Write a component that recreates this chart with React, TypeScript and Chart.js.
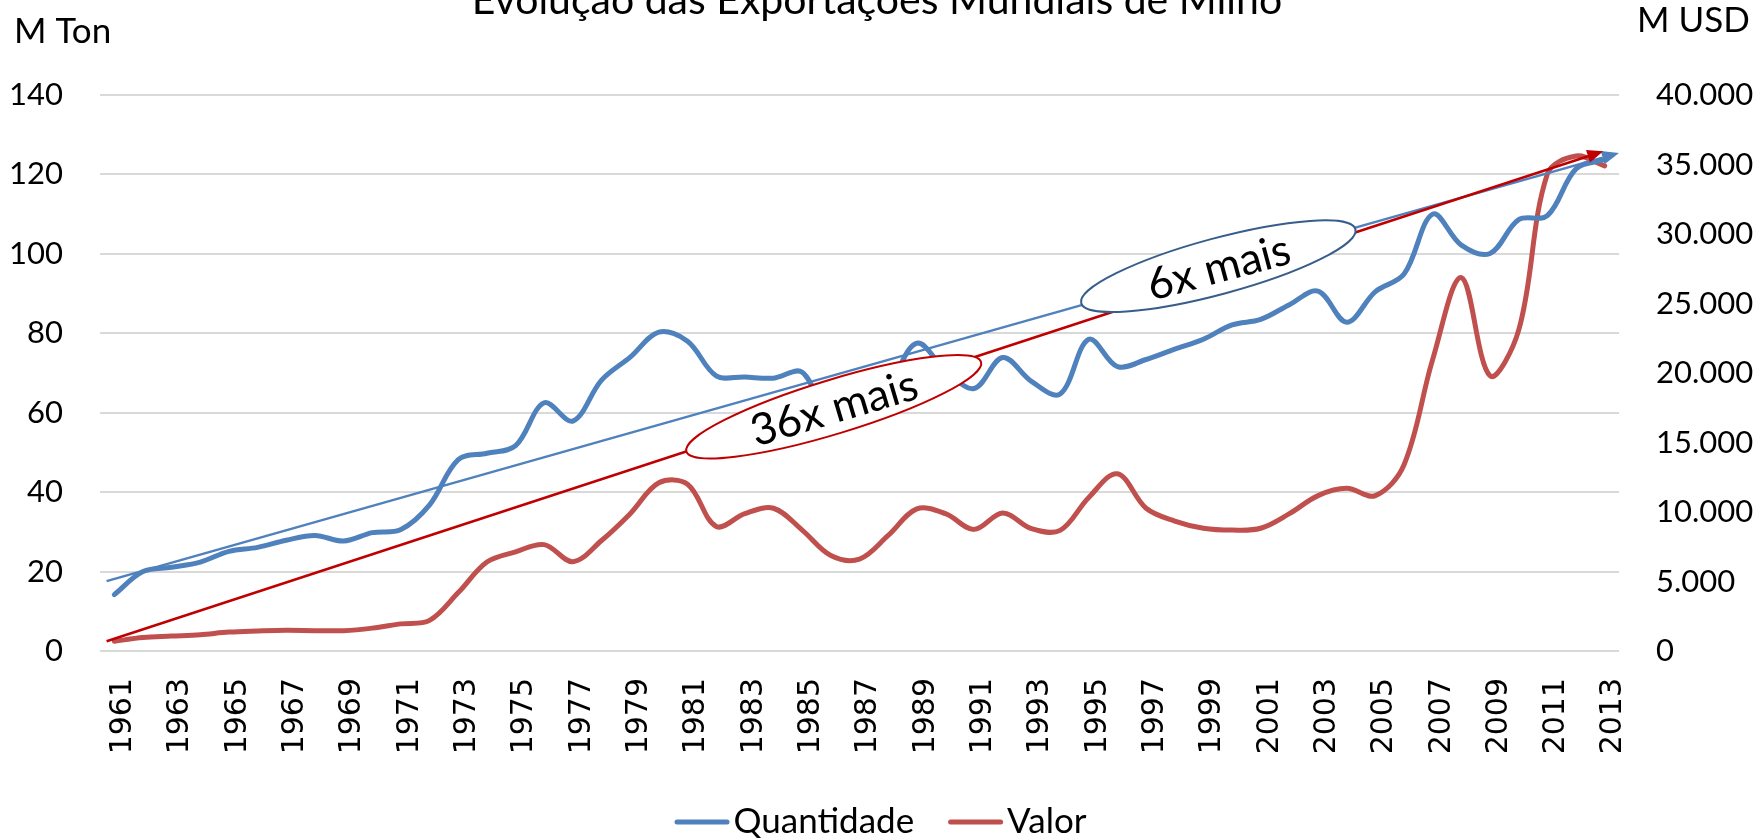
import React, { useEffect, useRef } from 'react';
import { Chart, registerables } from 'chart.js';

Chart.register(...registerables);

const years = [
  '1961', '1962', '1963', '1964', '1965', '1966', '1967', '1968', '1969', '1970',
  '1971', '1972', '1973', '1974', '1975', '1976', '1977', '1978', '1979', '1980',
  '1981', '1982', '1983', '1984', '1985', '1986', '1987', '1988', '1989', '1990',
  '1991', '1992', '1993', '1994', '1995', '1996', '1997', '1998', '1999', '2000',
  '2001', '2002', '2003', '2004', '2005', '2006', '2007', '2008', '2009', '2010',
  '2011', '2012', '2013',
];

// Quantidade (M Ton) - left axis
const quantidade = [
  14.2, 20.0, 21.1, 22.4, 25.1, 26.1, 27.9, 29.1, 27.7, 29.8,
  30.6, 36.8, 48.2, 49.8, 51.7, 62.5, 57.9, 68.2, 74.0, 80.3,
  78.0, 69.3, 69.0, 68.7, 70.2, 58.0, 62.0, 67.0, 77.5, 70.7,
  66.1, 73.9, 67.9, 64.7, 78.5, 71.6, 73.4, 76.0, 78.5, 82.1,
  83.5, 87.2, 90.6, 82.8, 90.5, 94.9, 110.0, 102.2, 100.1, 108.6,
  109.6, 121.4, 123.7,
];

// Valor (M USD) - right axis
const valor = [
  706, 967, 1071, 1175, 1359, 1437, 1489, 1463, 1463, 1646,
  1950, 2200, 4200, 6400, 7133, 7655, 6427, 7950, 9880, 12100,
  12000, 8960, 9880, 10270, 8700, 6870, 6610, 8310, 10220, 9880,
  8750, 9930, 8800, 8680, 11050, 12750, 10270, 9350, 8830, 8700,
  8830, 9880, 11180, 11700, 11180, 13400, 20980, 26860, 19800, 23080,
  34310, 35610, 34900,
];

const leftTickValues = [0, 20, 40, 60, 80, 100, 120, 140];
const rightTickValues = [0, 5000, 10000, 15000, 20000, 25000, 30000, 35000, 40000];

// Trend arrows: [start value, end value]
const trendQuantidade = [17.6, 125.4]; // M Ton
const trendValor = [700, 35950]; // M USD

// Annotation labels
const annotationLabels = ['6x mais', '36x mais'];
// Annotation anchor (category index, value on M Ton axis)
const annotationIndex = [38.52, 25.1];
const annotationValue = [96.9, 61.5];

const titleText = 'Evolução das Exportações Mundiais de Milho';
const leftAxisTitle = 'M Ton';
const rightAxisTitle = 'M USD';

const BLUE = '#4f81bd';
const RED = '#c0504d';
const TREND_RED = '#c00000';
const ELLIPSE_BLUE = '#385d8a';
const FONT = 'Lato, "Liberation Sans", sans-serif';

function formatThousands(n: number): string {
  return String(Math.round(n)).replace(/\B(?=(\d{3})+(?!\d))/g, '.');
}

function drawArrow(
  ctx: CanvasRenderingContext2D,
  x0: number, y0: number, x1: number, y1: number,
  color: string, width: number, headLen: number, headHalf: number,
) {
  const ang = Math.atan2(y1 - y0, x1 - x0);
  const bx = x1 - headLen * Math.cos(ang);
  const by = y1 - headLen * Math.sin(ang);
  ctx.save();
  ctx.strokeStyle = color;
  ctx.fillStyle = color;
  ctx.lineWidth = width;
  ctx.lineCap = 'butt';
  ctx.beginPath();
  ctx.moveTo(x0, y0);
  ctx.lineTo(bx, by);
  ctx.stroke();
  ctx.beginPath();
  ctx.moveTo(x1, y1);
  ctx.lineTo(bx + headHalf * Math.sin(ang), by - headHalf * Math.cos(ang));
  ctx.lineTo(bx - headHalf * Math.sin(ang), by + headHalf * Math.cos(ang));
  ctx.closePath();
  ctx.fill();
  ctx.restore();
}

function drawEllipseLabel(
  ctx: CanvasRenderingContext2D,
  cx: number, cy: number, a: number, b: number, rotDeg: number,
  stroke: string, text: string, textRot: number,
) {
  ctx.save();
  ctx.beginPath();
  ctx.ellipse(cx, cy, a, b, (rotDeg * Math.PI) / 180, 0, Math.PI * 2);
  ctx.fillStyle = '#ffffff';
  ctx.fill();
  ctx.lineWidth = 2;
  ctx.strokeStyle = stroke;
  ctx.stroke();
  ctx.translate(cx, cy);
  ctx.rotate((textRot * Math.PI) / 180);
  ctx.fillStyle = '#000';
  ctx.font = `44px ${FONT}`;
  ctx.textAlign = 'center';
  ctx.textBaseline = 'middle';
  ctx.fillText(text, 0, 2);
  ctx.restore();
}

const overlayPlugin = {
  id: 'overlay',
  afterDatasetsDraw(chart: any) {
    const ctx: CanvasRenderingContext2D = chart.ctx;
    const xs = chart.scales.x;
    const ys = chart.scales.y;
    const y1s = chart.scales.y1;
    // blue trend arrow
    drawArrow(
      ctx,
      xs.getPixelForValue(-0.27), ys.getPixelForValue(trendQuantidade[0]),
      xs.getPixelForValue(52.5), ys.getPixelForValue(trendQuantidade[1]),
      BLUE, 2.5, 17, 7,
    );
    // red trend arrow
    drawArrow(
      ctx,
      xs.getPixelForValue(-0.27), y1s.getPixelForValue(trendValor[0]),
      xs.getPixelForValue(51.95), y1s.getPixelForValue(trendValor[1]),
      TREND_RED, 2.5, 16, 6.5,
    );
    // ellipses
    drawEllipseLabel(
      ctx,
      xs.getPixelForValue(annotationIndex[0]), ys.getPixelForValue(annotationValue[0]),
      142, 28, -15.1, ELLIPSE_BLUE, annotationLabels[0], -15,
    );
    drawEllipseLabel(
      ctx,
      xs.getPixelForValue(annotationIndex[1]), ys.getPixelForValue(annotationValue[1]),
      154, 27, -16.9, TREND_RED, annotationLabels[1], -16.5,
    );
  },
  afterDraw(chart: any) {
    const ctx: CanvasRenderingContext2D = chart.ctx;
    ctx.save();
    ctx.fillStyle = '#000';
    // title (cut off at top, as in the reference)
    ctx.font = `41px ${FONT}`;
    ctx.textAlign = 'center';
    ctx.textBaseline = 'alphabetic';
    ctx.fillText(titleText, 877, 14);
    // axis titles
    ctx.font = `35px ${FONT}`;
    ctx.textAlign = 'left';
    ctx.fillText(leftAxisTitle, 14, 43);
    ctx.fillText(rightAxisTitle, 1637, 32);
    // legend
    ctx.font = `35px ${FONT}`;
    const items = chart.data.datasets.map((d: any) => ({
      label: d.label as string,
      color: d.borderColor as string,
      w: ctx.measureText(d.label).width,
    }));
    const sample = 55;
    const gapText = 4;
    const gapItem = 34;
    const total = items.reduce((s: number, it: any) => s + sample + gapText + it.w, 0) + gapItem * (items.length - 1);
    let cx = chart.width / 2 - total / 2;
    const ly = 822;
    ctx.textBaseline = 'middle';
    items.forEach((it: any) => {
      ctx.strokeStyle = it.color;
      ctx.lineWidth = 5;
      ctx.lineCap = 'round';
      ctx.beginPath();
      ctx.moveTo(cx + 2.5, ly);
      ctx.lineTo(cx + sample - 2.5, ly);
      ctx.stroke();
      ctx.fillText(it.label, cx + sample + gapText, ly);
      cx += sample + gapText + it.w + gapItem;
    });
    ctx.restore();
  },
};

export default function App() {
  const canvasRef = useRef<HTMLCanvasElement | null>(null);

  useEffect(() => {
    document.body.style.margin = '0';
    const canvas = canvasRef.current;
    if (!canvas) return;
    const chart = new Chart(canvas, {
      type: 'line',
      data: {
        labels: years,
        datasets: [
          {
            label: 'Quantidade',
            data: quantidade,
            yAxisID: 'y',
            borderColor: BLUE,
            backgroundColor: BLUE,
            borderWidth: 5,
            pointRadius: 0,
            pointHoverRadius: 0,
            tension: 0.35,
            borderCapStyle: 'round',
            borderJoinStyle: 'round',
            fill: false,
          },
          {
            label: 'Valor',
            data: valor,
            yAxisID: 'y1',
            borderColor: RED,
            backgroundColor: RED,
            borderWidth: 5,
            pointRadius: 0,
            pointHoverRadius: 0,
            tension: 0.35,
            borderCapStyle: 'round',
            borderJoinStyle: 'round',
            fill: false,
          },
        ],
      },
      options: {
        animation: false,
        responsive: false,
        devicePixelRatio: 1,
        layout: { padding: { top: 95, left: 0, right: 0, bottom: 0 } },
        plugins: {
          legend: { display: false },
          title: { display: false },
          tooltip: { enabled: false },
        },
        scales: {
          x: {
            type: 'category',
            offset: true,
            grid: { display: false, drawTicks: false },
            border: { display: false },
            ticks: {
              autoSkip: false,
              minRotation: 90,
              maxRotation: 90,
              padding: 27,
              labelOffset: 9,
              color: '#000',
              font: { family: '"DejaVu Sans", sans-serif', size: 30 },
              callback: function (this: any, value: any, index: number) {
                return index % 2 === 0 ? this.getLabelForValue(value) : '';
              },
            },
            afterFit: (s: any) => {
              s.height = 187;
            },
          },
          y: {
            type: 'linear',
            position: 'left',
            min: 0,
            max: 140,
            afterBuildTicks: (s: any) => {
              s.ticks = leftTickValues.map((v) => ({ value: v }));
            },
            grid: { color: '#d9d9d9', lineWidth: 2, drawTicks: false },
            border: { display: false },
            ticks: {
              padding: 37,
              color: '#000',
              font: { family: FONT, size: 31 },
            },
            afterFit: (s: any) => {
              s.width = 100;
            },
          },
          y1: {
            type: 'linear',
            position: 'right',
            min: 0,
            max: 40000,
            afterBuildTicks: (s: any) => {
              s.ticks = rightTickValues.map((v) => ({ value: v }));
            },
            grid: { display: false, drawTicks: false },
            border: { display: false },
            ticks: {
              padding: 37,
              color: '#000',
              font: { family: FONT, size: 31 },
              callback: (v: any) => formatThousands(Number(v)),
            },
            afterFit: (s: any) => {
              s.width = 142;
            },
          },
        },
      },
      plugins: [overlayPlugin],
    });
    return () => {
      chart.destroy();
    };
  }, []);

  return (
    <canvas
      ref={canvasRef}
      width={1761}
      height={838}
      style={{ display: 'block', width: '1761px', height: '838px' }}
    />
  );
}
